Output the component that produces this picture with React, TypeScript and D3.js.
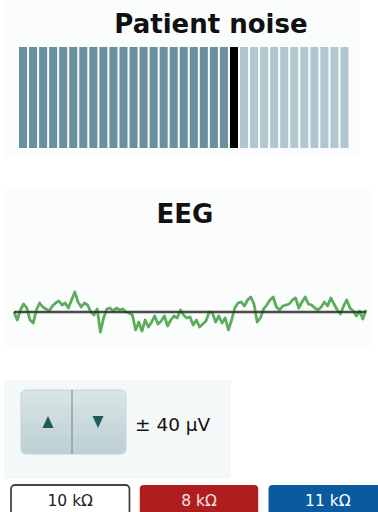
import React from "react";
import * as d3 from "d3";

// ---- data ----
const noiseBarCount = 33;
const noiseLevel = 21; // index of the black marker bar
const eegRange = [-40, 40]; // µV
const eegValues = [
  0, -8, 2, 8, 4, -8, -11, 2, 9, 5, 3, 1, 6, 9, 11, 7, 9, 4, 12, 20, 10, 5, 9, 7, 0, -3, 3, -20, -6, 3,
  4, 1, 4, 2, 3, 0, -1, -3, -18, -10, -19, -8, -15, -10, -4, -12, -9, -4, -14, -8, -4, -6, 2, -3, -6,
  -5, -13, -8, -15, -12, -9, 0, -1, -10, -4, -11, -6, -18, -8, 4, 9, 10, 6, 12, 15, 8, -10, -6, 3, 7,
  12, 15, 5, 2, 6, 7, 8, 12, 14, 4, 10, 15, 8, 7, 4, 2, 5, 10, 6, 14, 8, 2, -2, 6, 12, 4, 1, -4, 1, -7, 2,
];
const scaleLabel = "± 40 µV";
const impedanceLabels = ["10 kΩ", "8 kΩ", "11 kΩ"];
const impedanceFills = ["#ffffff", "#b01d1e", "#0a5a9f"];
const impedanceText = ["#222222", "#f6e4e4", "#ffffff"];

const FONT = "'DejaVu Sans', Verdana, sans-serif";

export default function App() {
  const W = 378;
  const H = 512;

  // noise bars
  const band = d3
    .scaleBand<number>()
    .domain(d3.range(noiseBarCount))
    .range([19, 348.5])
    .paddingInner(0.2)
    .paddingOuter(0);
  const barColor = (i: number) =>
    i < noiseLevel ? "#6a909f" : i === noiseLevel ? "#000000" : "#b0c7cf";

  // EEG
  const ex = d3.scaleLinear().domain([0, eegValues.length - 1]).range([14, 366]);
  const ey = d3.scaleLinear().domain(eegRange).range([352, 272]);
  const line = d3
    .line<number>()
    .x((_, i) => ex(i))
    .y((d) => ey(d))
    .curve(d3.curveLinear);

  // impedance boxes
  const boxX = d3.scaleBand<number>().domain([0, 1, 2]).range([11, 387]).paddingInner(0.08);

  return (
    <svg
      width={W}
      height={H}
      style={{ position: "absolute", left: 0, top: 0, background: "#ffffff" }}
    >
      {/* Patient noise panel */}
      <rect x={4} y={0} width={356} height={157} fill="#fbfcfc" />
      <text
        x={211}
        y={33}
        textAnchor="middle"
        fontFamily={FONT}
        fontWeight="bold"
        fontSize={26}
        fill="#111"
      >
        Patient noise
      </text>
      {d3.range(noiseBarCount).map((i) => (
        <rect
          key={i}
          x={band(i)}
          y={47}
          width={band.bandwidth()}
          height={101}
          fill={barColor(i)}
        />
      ))}

      {/* EEG panel */}
      <rect x={4} y={188} width={366} height={159} fill="#fbfcfc" />
      <text
        x={185}
        y={223}
        textAnchor="middle"
        fontFamily={FONT}
        fontWeight="bold"
        fontSize={26}
        fill="#111"
      >
        EEG
      </text>
      <line x1={ex(0)} x2={ex(eegValues.length - 1)} y1={ey(0)} y2={ey(0)} stroke="#999" strokeWidth={4} opacity={0.5} />
      <path d={line(eegValues) || ""} fill="none" stroke="#3e9f3e" strokeWidth={2.8} strokeLinejoin="round" opacity={0.85} />
      <line x1={ex(0)} x2={ex(eegValues.length - 1)} y1={ey(0)} y2={ey(0)} stroke="#222" strokeWidth={1.6} />

      {/* scale control panel */}
      <rect x={4} y={380} width={227} height={99} fill="#f4f8f8" />
      <defs>
        <linearGradient id="btnGrad" x1="0" x2="0" y1="0" y2="1">
          <stop offset="0" stopColor="#dae5e7" />
          <stop offset="1" stopColor="#bccfd2" />
        </linearGradient>
      </defs>
      <rect x={21} y={390} width={105} height={64} rx={5} fill="url(#btnGrad)" stroke="#c5d5d8" />
      <line x1={72} x2={72} y1={390} y2={454} stroke="#6f8386" strokeWidth={1} />
      <path d="M48,416 L53.5,428 L42.5,428 Z" fill="#1c5a5c" />
      <path d="M92.5,416 L103.5,416 L98,428 Z" fill="#1c5a5c" />
      <text x={135} y={431} fontFamily={FONT} fontSize={18.5} fill="#111">
        {scaleLabel}
      </text>

      {/* impedance boxes */}
      {impedanceLabels.map((lab, i) => (
        <g key={lab}>
          <rect
            x={boxX(i)}
            y={485}
            width={boxX.bandwidth()}
            height={40}
            rx={4}
            fill={impedanceFills[i]}
            stroke={i === 0 ? "#444" : "none"}
            strokeWidth={i === 0 ? 1.8 : 0}
          />
          <text
            x={(boxX(i) as number) + boxX.bandwidth() / 2}
            y={505.5}
            textAnchor="middle"
            fontFamily={FONT}
            fontSize={15.5}
            fill={impedanceText[i]}
          >
            {lab}
          </text>
        </g>
      ))}
    </svg>
  );
}
